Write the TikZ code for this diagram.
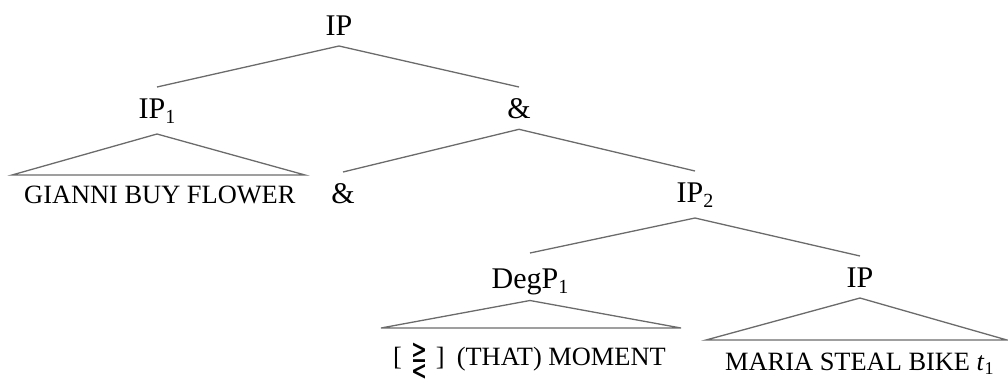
\documentclass[tikz,border=0pt]{standalone}
\usepackage{fontspec}
\usepackage{graphicx}
\setmainfont{Liberation Serif}
\newfontfamily\symfont{DejaVu Sans}
\newcommand\mysub[1]{\raisebox{-5pt}{\fontsize{20}{20}\selectfont #1}}
\newcommand\leafsub[1]{\raisebox{-4.5pt}{\fontsize{18}{18}\selectfont #1}}
\newcommand\cmpstack{\raisebox{-14pt}{\resizebox{16pt}{36pt}{\raisebox{\depth}{\symfont ⋛}}}}
\begin{document}
\begin{tikzpicture}[x=1pt,y=-1pt,
  lab/.style={font=\fontsize{30}{30}\selectfont, inner sep=0pt, outer xsep=0pt, outer ysep=11pt, anchor=base, text height=20pt},
  leaf/.style={font=\fontsize{26.4}{26.4}\selectfont, inner sep=0pt, anchor=base west},
  edge/.style={draw=black!58, line width=1.3pt},
  tri/.style={draw=black!58, line width=1.3pt, line join=miter}]
\useasboundingbox (0,0) rectangle (1008,381);

% labels
\node[lab] (ip) at (339,35) {IP};
\node[lab] (ipone) at (157,118) {IP\mysub{1}};
\node[lab] (ampa) at (519,118) {\&};
\node[lab] (ampb) at (343,203) {\&};
\node[lab] (iptwo) at (695,202) {IP\mysub{2}};
\node[lab, text height=24pt, text depth=1.5pt] (degp) at (530,288) {DegP\mysub{1}};
\node[lab] (ipr) at (860,287) {IP};

% leaves
\node[leaf] (lfa) at (24,203) {GIANNI BUY FLOWER};
\node[leaf] (lfb) at (393,365) {[\hspace{10pt}\cmpstack\hspace{8pt}]\hspace{12pt}(THAT) MOMENT};
\node[leaf] (lfc) at (725,370) {MARIA STEAL BIKE \textit{t}\leafsub{1}};

% triangle base corners
\coordinate (ta) at (12,175);
\coordinate (tb) at (305,175);
\coordinate (tc) at (381,328);
\coordinate (td) at (681,328);
\coordinate (te) at (706,340);
\coordinate (tf) at (1007,340);

% edges
\draw[edge] (ip.south) -- (ipone.north);
\draw[edge] (ip.south) -- (ampa.north);
\draw[edge] (ampa.south) -- (ampb.north);
\draw[edge] (ampa.south) -- (iptwo.north);
\draw[edge] (iptwo.south) -- (degp.north);
\draw[edge] (iptwo.south) -- (ipr.north);

% triangles
\draw[tri] (ipone.south) -- (ta) -- (tb) -- cycle;
\draw[tri] (degp.south) -- (tc) -- (td) -- cycle;
\draw[tri] (ipr.south) -- (te) -- (tf) -- cycle;
\end{tikzpicture}
\end{document}
